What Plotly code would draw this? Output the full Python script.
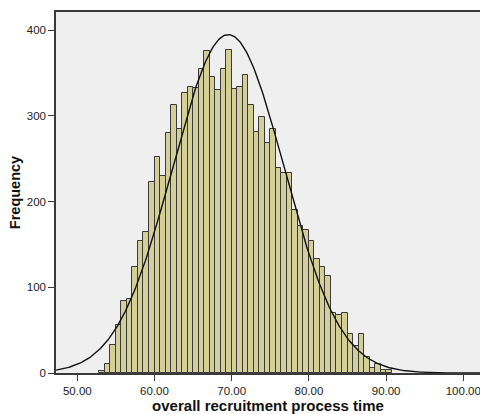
import numpy as np
import plotly.graph_objects as go

# Histogram bins: left edge of first bin and bin width (data units)
first_edge = 60 - 10 * (5 / 7)
bin_width = 5 / 7
counts = [2, 11, 33, 56, 84, 86, 124, 154, 164, 223,
          252, 230, 280, 313, 285, 326, 334, 332, 355, 375,
          345, 330, 355, 377, 331, 333, 348, 312, 281, 298,
          268, 285, 239, 233, 233, 190, 172, 167, 154, 133,
          124, 113, 70, 68, 70, 46, 31, 45, 19, 6,
          11, 4, 3]

# Normal curve parameters
curve_mean = 69.56
curve_sd = 7.23
n_total = sum(counts)

x_tick_vals = [50, 60, 70, 80, 90, 100]
x_tick_text = ["50.00", "60.00", "70.00", "80.00", "90.00", "100.00"]
y_tick_vals = [0, 100, 200, 300, 400]

x_range = [47.24, 102.16]
y_range = [0, 421]

centers = [first_edge + bin_width * (i + 0.5) for i in range(len(counts))]

xc = np.linspace(x_range[0], x_range[1], 400)
yc = n_total * bin_width / (curve_sd * np.sqrt(2 * np.pi)) * np.exp(-0.5 * ((xc - curve_mean) / curve_sd) ** 2)

fig = go.Figure()
fig.add_trace(go.Bar(
    x=centers, y=counts, width=bin_width,
    marker=dict(color="#D4CF98", line=dict(color="#3A3A3A", width=1)),
    showlegend=False, hoverinfo="skip"))
fig.add_trace(go.Scatter(
    x=xc, y=yc, mode="lines",
    line=dict(color="#111111", width=1.4),
    showlegend=False, hoverinfo="skip"))

font_family = "Liberation Sans, Arial, sans-serif"
fig.update_layout(
    width=480, height=414,
    margin=dict(l=56, r=0, t=12, b=41),
    paper_bgcolor="white", plot_bgcolor="#EFEFEF",
    bargap=0,
    font=dict(family=font_family, size=11.5, color="#222222"),
    xaxis=dict(range=x_range, tickvals=x_tick_vals, ticktext=x_tick_text,
               showgrid=False, zeroline=False, showline=True, mirror=True,
               linecolor="#3A3A3A", linewidth=1.5,
               ticks="outside", ticklen=6, tickcolor="#3A3A3A", tickwidth=1,
               ticklabeloverflow="allow",
               tickfont=dict(size=11.5, color="#222222"),
               title=dict(text="<b>overall recruitment process time</b>",
                          font=dict(size=15, color="#111111"), standoff=5)),
    yaxis=dict(range=y_range, tickvals=y_tick_vals,
               showgrid=False, zeroline=False, showline=True, mirror=False,
               linecolor="#3A3A3A", linewidth=1.5,
               ticks="outside", ticklen=6, tickcolor="#3A3A3A", tickwidth=1,
               tickfont=dict(size=11.5, color="#222222"),
               title=dict(text="<b>Frequency</b>",
                          font=dict(size=14.5, color="#111111"), standoff=3)),
)

fig.write_html(
    "out.html",
    config={"displayModeBar": False},
    post_script="document.body.style.margin='0';"
                "document.documentElement.style.overflow='hidden';"
                "document.body.style.overflow='hidden';")
